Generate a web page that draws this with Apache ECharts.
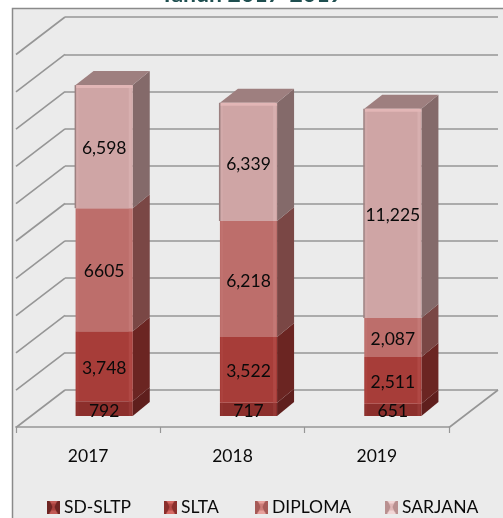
<!DOCTYPE html>
<html><head><meta charset="utf-8">
<style>html,body{margin:0;padding:0;background:#fff}#c{width:503px;height:518px}</style>
<script src="https://cdn.jsdelivr.net/npm/echarts@6/dist/echarts.min.js"></script>
</head><body><div id="c"></div>
<script>
const years = ['2017','2018','2019'];
const seriesNames = ['SD-SLTP','SLTA','DIPLOMA','SARJANA'];
const sdSltp  = [792,717,651];
const slta    = [3748,3522,2511];
const diploma = [6605,6218,2087];
const sarjana = [6598,6339,11225];
const sdLabels = ['792','717','651'];
const sltaLabels = ['3,748','3,522','2,511'];
const diplomaLabels = ['6605','6,218','2,087'];
const sarjanaLabels = ['6,598','6,339','11,225'];
const yTicks = [0,2000,4000,6000,8000,10000,12000,14000,16000,18000,20000];

const FONT = 'Lato, "Open Sans", sans-serif';
const values = [sdSltp, slta, diploma, sarjana];
const labels = [sdLabels, sltaLabels, diplomaLabels, sarjanaLabels];
const faces = [
  {front:'#8c2f2c', side:'#5f1f1d', top:'#5f1f1d', hi:'#9c3f3c', leg:['#6e2523','#a8413d','#c25a55']},
  {front:'#a73d39', side:'#6b2522', top:'#6b2522', hi:'#b5504c', leg:['#8a2f2c','#b64a46','#d66a64']},
  {front:'#bd6e6b', side:'#7a4745', top:'#7a4745', hi:'#c87f7c', leg:['#a65a57','#cc7c78','#e8a09b']},
  {front:'#cfa5a5', side:'#846a6a', top:'#9e7f7f', hi:'#dcb5b5', leg:['#b99090','#e0b8b8','#f2d6d6']}
];
const DEPTH = {wx:49, wy:37.5, fx:-33, fy:26, sx:17, sy:-14};

function legendIcon(f){
  const s=26,c=document.createElement('canvas');c.width=c.height=s;
  const g=c.getContext('2d');
  const tri=(col,p)=>{g.fillStyle=col;g.beginPath();g.moveTo(p[0],p[1]);for(let i=2;i<p.length;i+=2)g.lineTo(p[i],p[i+1]);g.closePath();g.fill();};
  tri(f.leg[0],[0,0,s,0,s,s,0,s]);
  tri(f.leg[2],[4,0,s-4,0,s/2+3,8,s/2-3,8]);
  tri(f.leg[2],[4,s,s-4,s,s/2+3,s-8,s/2-3,s-8]);
  tri(f.leg[1],[s/2-5,6,s/2+5,6,s/2+2,s/2,s/2+5,s-6,s/2-5,s-6,s/2-2,s/2]);
  return 'image://'+c.toDataURL();
}

function barSeries(si){
  const data = years.map((y,i)=>{
    let base=0; for(let k=0;k<si;k++) base+=values[k][i];
    return [i, base, base+values[si][i]];
  });
  return {
    type:'custom', name:seriesNames[si], xAxisIndex:0, yAxisIndex:0, z:5+si,
    data, encode:{x:0,y:2},
    renderItem(params,api){
      const cat=api.value(0), lo=api.coord([cat,api.value(1)]), hi=api.coord([cat,api.value(2)]);
      const w=api.size([1,0])[0]*0.396;
      const x=lo[0]+DEPTH.fx-w/2, y0=lo[1]+DEPTH.fy, y1=hi[1]+DEPTH.fy, f=faces[si];
      const kids=[
        {type:'polygon',shape:{points:[[x+w,y0],[x+w+DEPTH.sx,y0+DEPTH.sy],[x+w+DEPTH.sx,y1+DEPTH.sy],[x+w,y1]]},style:{fill:f.side}},
        {type:'rect',shape:{x,y:y1,width:w,height:y0-y1},style:{fill:f.front}},
        {type:'rect',shape:{x:x+w-4,y:y1,width:3,height:y0-y1},style:{fill:f.hi,opacity:.6}},
        {type:'rect',shape:{x:x+1,y:y1,width:2,height:y0-y1},style:{fill:f.hi,opacity:.3}}
      ];
      if(si===seriesNames.length-1){
        kids.push({type:'polygon',shape:{points:[[x,y1],[x+DEPTH.sx+1,y1+DEPTH.sy],[x+w+DEPTH.sx,y1+DEPTH.sy],[x+w,y1]]},style:{fill:f.top}});
        kids.push({type:'rect',shape:{x,y:y1,width:w,height:3,r:[2,2,0,0]},style:{fill:'#e2b6b6'}});
        kids.push({type:'rect',shape:{x:x-1,y:y1,width:1.5,height:y0-y1},style:{fill:'#9c8080'}});
      }
      const minH=y0-y1<20;
      kids.push({type:'text',z2:50,style:{text:labels[si][cat],x:x+w/2,y:minH?y0-4.5:(y0+y1)/2+2,align:'center',verticalAlign:'middle',
        fill:'#0a0a0a',font:'17.5px '+FONT}});
      return {type:'group',children:kids};
    }
  };
}

const wallSeries = {
  type:'custom', xAxisIndex:0, yAxisIndex:0, z:1, silent:true,
  data:yTicks.map(v=>[0,v]), encode:{y:1},
  renderItem(params,api){
    const p=api.coord([0,api.value(1)]), left=params.coordSys.x, right=left+params.coordSys.width;
    const kids=[{type:'line',shape:{x1:left,y1:p[1],x2:left-DEPTH.wx,y2:p[1]+DEPTH.wy},style:{stroke:'#969696',lineWidth:1.6}}];
    if(api.value(1)===0) kids.push({type:'line',shape:{x1:right,y1:p[1],x2:right-DEPTH.wx,y2:p[1]+DEPTH.wy},style:{stroke:'#969696',lineWidth:1.6}});
    return {type:'group',children:kids};
  }
};

const legendLefts=[47,164,255,385];
const chart=echarts.init(document.getElementById('c'),null,{renderer:'canvas'});
chart.setOption({
  animation:false,
  backgroundColor:'#fff',
  title:{text:'Tahun 2017-2019',left:'center',top:-17,padding:0,textStyle:{fontFamily:FONT,fontWeight:'bold',fontSize:23,color:'#1f4f50'}},
  graphic:[{type:'rect',z:-10,silent:true,shape:{x:12.5,y:8.5,width:520,height:540},style:{fill:'#ebebeb',stroke:'#8a8a8a',lineWidth:1.5}}],
  grid:[
    {left:65,right:5,top:17,bottom:128},
    {left:16,right:54,top:400,bottom:91}
  ],
  xAxis:[
    {gridIndex:0,type:'category',data:years,axisLine:{show:false},axisTick:{show:false},axisLabel:{show:false}},
    {gridIndex:1,type:'category',data:years,boundaryGap:true,
     axisLine:{lineStyle:{color:'#969696',width:1.6}},
     axisTick:{show:true,alignWithLabel:false,length:6,lineStyle:{color:'#969696',width:1.2}},
     axisLabel:{margin:20,fontFamily:FONT,fontSize:17.5,color:'#0a0a0a'}}
  ],
  yAxis:[
    {gridIndex:0,type:'value',min:0,max:20000,interval:2000,axisLine:{show:false},axisTick:{show:false},axisLabel:{show:false},
     splitLine:{lineStyle:{color:'#969696',width:1.6}}},
    {gridIndex:1,type:'value',show:false,splitLine:{show:false}}
  ],
  legend:seriesNames.map((n,i)=>({
    left:legendLefts[i],top:498,padding:0,selectedMode:false,itemWidth:13,itemHeight:13,
    data:[{name:n,icon:legendIcon(faces[i])}],
    textStyle:{fontFamily:FONT,fontSize:17.5,color:'#0a0a0a',padding:[0,0,0,-1]}
  })),
  series:[wallSeries].concat(seriesNames.map((n,i)=>barSeries(i)))
});
</script></body></html>
